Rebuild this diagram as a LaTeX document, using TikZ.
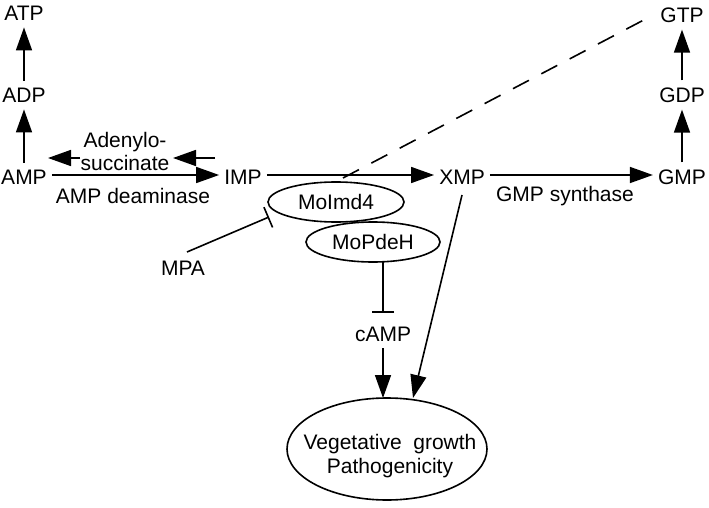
\documentclass[tikz,border=0pt]{standalone}
\usepackage{fontspec}
\setmainfont{Liberation Sans}
\usetikzlibrary{arrows.meta,shapes.geometric}
\begin{document}
\begin{tikzpicture}[x=1pt,y=-1pt,
  lbl/.style={inner xsep=5pt,inner ysep=7pt,font=\fontsize{21}{23}\selectfont},
  plain/.style={inner sep=0pt,font=\fontsize{21}{23}\selectfont,align=center},
  ell/.style={draw,line width=1.6pt,ellipse,inner sep=0pt,font=\fontsize{21}{23}\selectfont,align=center},
  arr/.style={line width=1.6pt,-{Triangle[length=23pt,width=16pt]}},
  inh/.style={line width=1.6pt,-{Bar[width=22pt]}},
  ]
\useasboundingbox (0,0) rectangle (709,508);
\node[lbl] (ATP) at (24,13) {ATP};
\node[lbl] (ADP) at (24,95) {ADP};
\node[lbl] (AMP) at (24,177) {AMP};
\node[lbl] (IMP) at (243,177) {IMP};
\node[lbl] (XMP) at (462,177) {XMP};
\node[lbl] (GMP) at (682,177) {GMP};
\node[lbl] (GDP) at (682,95) {GDP};
\node[lbl] (GTP) at (682,15) {GTP};
\node[plain] (succ) at (125,151) {Adenylo-\\succinate};
\node[plain] (deam) at (133,196) {AMP deaminase};
\node[plain] (gmps) at (565,196) {GMP synthase};
\node[plain] (MPA) at (183,268) {MPA};
\node[plain] (cAMP) at (383,334) {cAMP};
\node[ell,minimum width=136pt,minimum height=40pt] (imd) at (336,202) {MoImd4};
\node[ell,minimum width=134pt,minimum height=40pt] (pde) at (373,242) {MoPdeH};
\node[ell,minimum width=200pt,minimum height=102pt] (veg) at (387,449) {};
\node[plain,font=\fontsize{21}{24}\selectfont] (vegtxt) at (390,456) {Vegetative\ \ growth\\Pathogenicity};
\coordinate (s1) at (80,158);
\coordinate (s1t) at (48,158);
\coordinate (s2) at (215,158);
\coordinate (s2t) at (173,158);
\coordinate (dash0) at (343,178);
\coordinate (mpa0) at (187,252);
\coordinate (mpa1) at (269,217);
\coordinate (pde0) at (383,262);
\coordinate (pde1) at (383,313);
\coordinate (camp0) at (383,348);
\coordinate (camp1) at (383,398);
\coordinate (xmp0) at (462,195);
\coordinate (xmp1) at (413,398);
\draw[arr] (AMP) -- (ADP);
\draw[arr] (ADP) -- (ATP);
\draw[arr] (GMP) -- (GDP);
\draw[arr] (GDP) -- (GTP);
\draw[arr] ([yshift=2pt]AMP.east) -- ([yshift=2pt]IMP.west);
\draw[arr] ([yshift=2pt]IMP.east) -- ([yshift=2pt]XMP.west);
\draw[arr] ([yshift=2pt]XMP.east) -- ([yshift=2pt]GMP.west);
\draw[arr] (s1) -- (s1t);
\draw[arr] (s2) -- (s2t);
\draw[line width=1.6pt,dash pattern=on 18pt off 14pt] (dash0) -- ([xshift=-2pt]GTP.west);
\draw[inh] (mpa0) -- (mpa1);
\draw[inh] (pde0) -- (pde1);
\draw[arr] (camp0) -- (camp1);
\draw[arr] (xmp0) -- (xmp1);
\end{tikzpicture}
\end{document}
